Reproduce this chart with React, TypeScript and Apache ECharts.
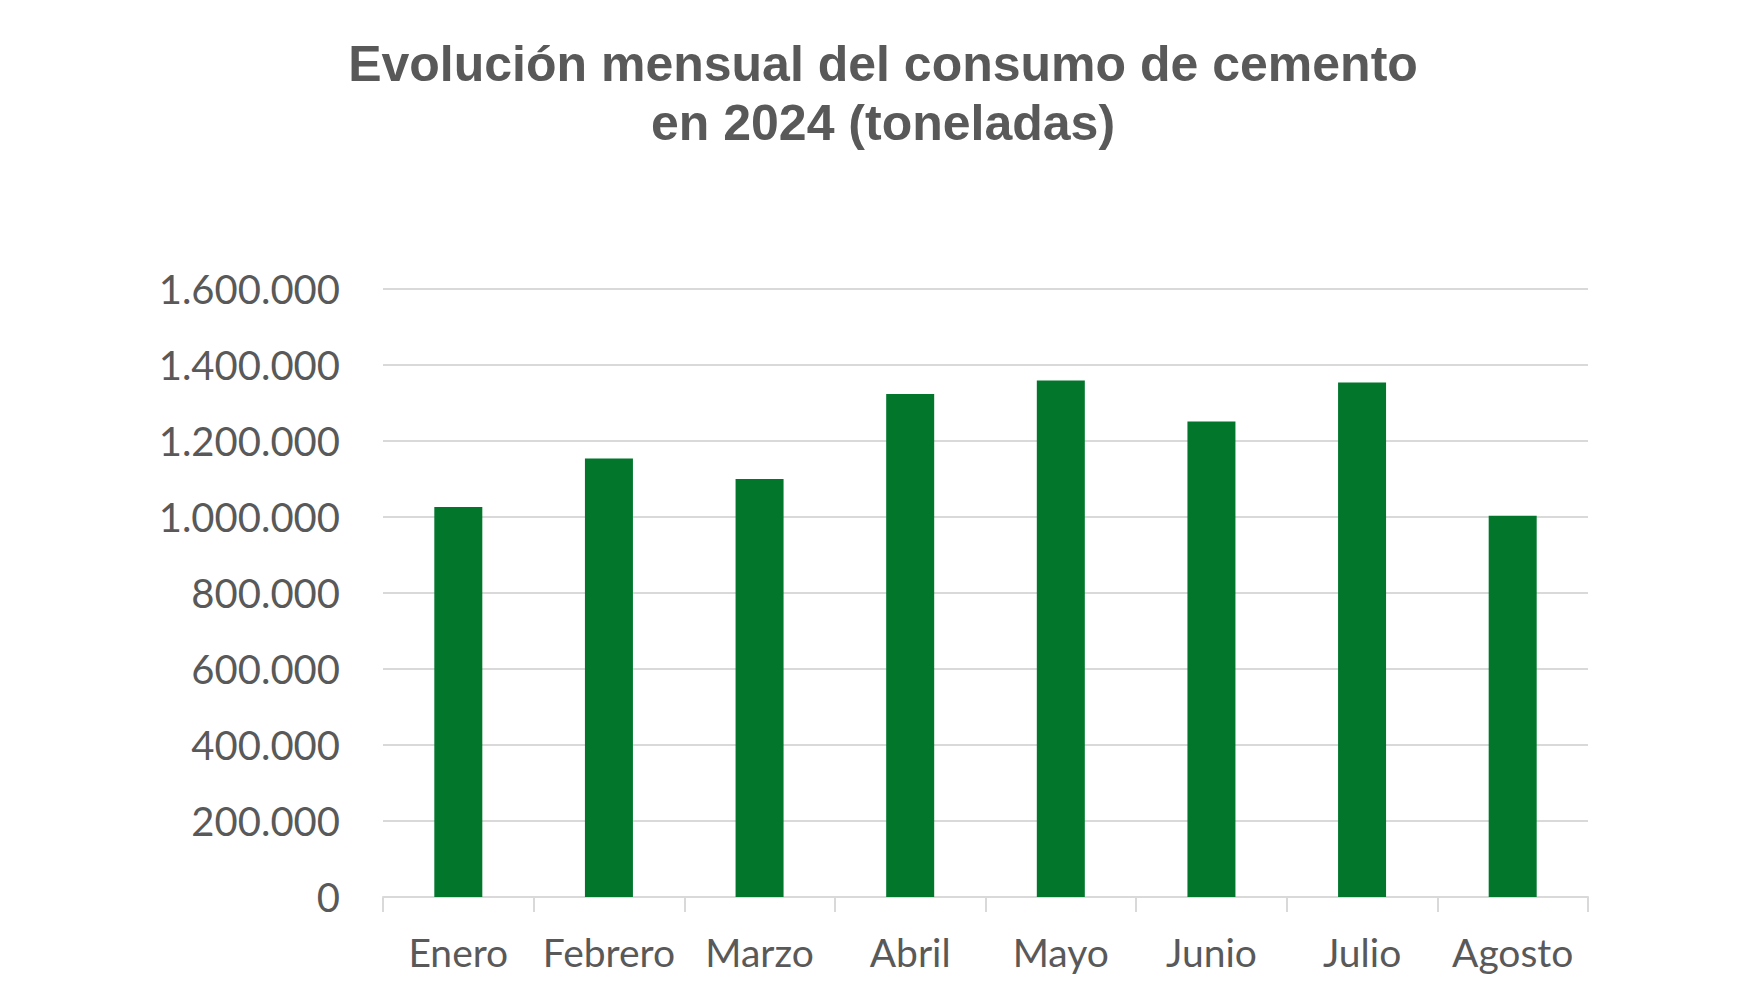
import React, { useEffect, useRef } from "react";
import * as echarts from "echarts";

const months = ["Enero", "Febrero", "Marzo", "Abril", "Mayo", "Junio", "Julio", "Agosto"];
const consumo = [1026000, 1154000, 1100000, 1324000, 1359000, 1251000, 1354000, 1003000];
const yTicks = { min: 0, max: 1600000, interval: 200000 };
const titleLines = ["Evolución mensual del consumo de cemento", "en 2024 (toneladas)"];

const fmt = (v: number) => String(Math.round(v)).replace(/\B(?=(\d{3})+(?!\d))/g, ".");

export default function App() {
  const ref = useRef<HTMLDivElement>(null);
  useEffect(() => {
    if (!ref.current) return;
    const chart = echarts.init(ref.current, null, { renderer: "svg" });
    chart.setOption({
      animation: false,
      backgroundColor: "#ffffff",
      title: {
        text: titleLines.join("\n"),
        left: 878,
        textAlign: "center",
        top: 29,
        textStyle: {
          fontFamily: "Liberation Sans, Arial, sans-serif",
          fontWeight: "bold",
          fontSize: 50,
          lineHeight: 59,
          color: "#595959",
        },
      },
      grid: { left: 383, right: 162, top: 289, bottom: 103, containLabel: false },
      xAxis: {
        type: "category",
        data: months,
        boundaryGap: true,
        axisLine: { show: true, lineStyle: { color: "#d9d9d9", width: 2 } },
        axisTick: { show: true, alignWithLabel: false, length: 15, lineStyle: { color: "#d9d9d9", width: 2 } },
        axisLabel: {
          margin: 35,
          fontFamily: "Lato, sans-serif",
          fontSize: 39,
          color: "#595959",
          interval: 0,
        },
      },
      yAxis: {
        type: "value",
        min: yTicks.min,
        max: yTicks.max,
        interval: yTicks.interval,
        axisLine: { show: false },
        axisTick: { show: false },
        splitLine: { show: true, lineStyle: { color: "#d9d9d9", width: 2 } },
        axisLabel: {
          margin: 43,
          fontFamily: "Lato, sans-serif",
          fontSize: 40,
          color: "#595959",
          formatter: (v: number) => fmt(v),
        },
      },
      series: [
        {
          type: "bar",
          data: consumo,
          barWidth: 48,
          itemStyle: { color: "#02772c" },
        },
      ],
    });
    return () => chart.dispose();
  }, []);
  return (
    <div
      ref={ref}
      style={{ position: "absolute", left: 0, top: 0, width: 1750, height: 1000 }}
    />
  );
}
